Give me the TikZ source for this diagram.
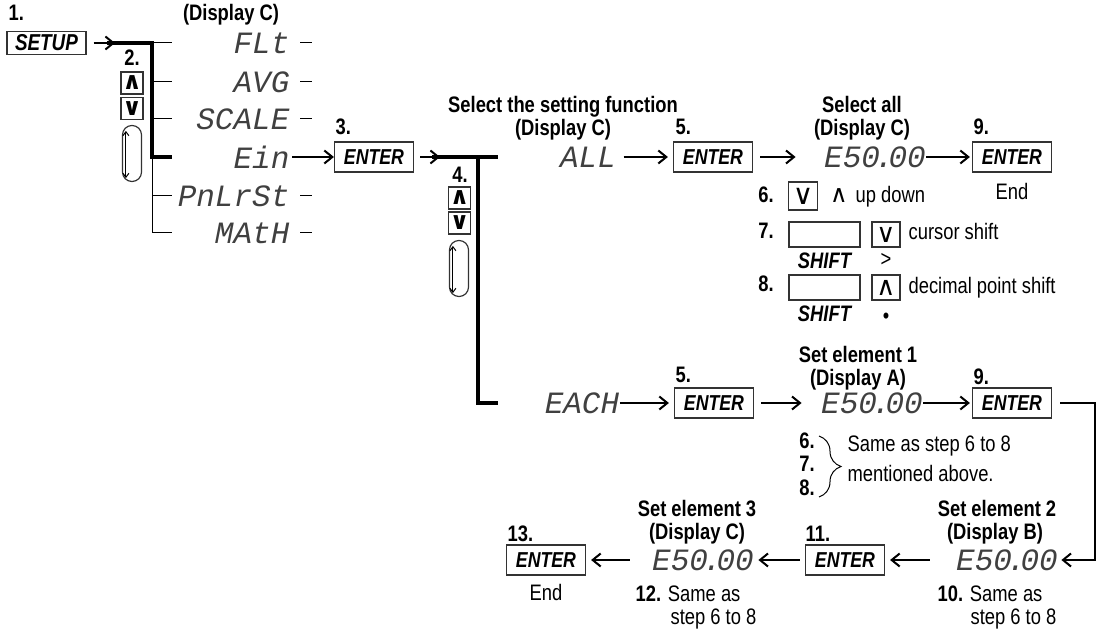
\documentclass[tikz,border=0pt]{standalone}
\usepackage{fontspec}
\setmainfont{Liberation Sans}[FakeStretch=0.82]
\newfontfamily\segfont{Liberation Mono}
\newfontfamily\keysym{DejaVu Sans}
\usetikzlibrary{arrows.meta, positioning, decorations.pathreplacing}
\newcommand\segdot{\kern-2.5pt.\kern-2.5pt}
\tikzset{
  every picture/.style={line width=0.6pt},
  head/.style={font=\bfseries\fontsize{11.2}{12}\selectfont, inner sep=0pt},
  num/.style={font=\bfseries\fontsize{11.2}{12}\selectfont, inner sep=0pt},
  note/.style={font=\fontsize{11.2}{12}\selectfont, inner sep=0pt},
  seg/.style={font=\segfont\itshape\fontsize{15.5}{16}\selectfont, text=black!75, inner sep=0pt},
  key/.style={draw=black!80, line width=0.6pt, font=\bfseries\itshape\fontsize{10.8}{12}\selectfont,
              minimum width=39.5pt, minimum height=15pt, inner sep=0pt},
  shiftkey/.style={draw=black!80, line width=0.6pt, minimum width=35.5pt, minimum height=12.5pt, inner sep=0pt},
  updn/.style={draw=black!80, line width=0.6pt, minimum size=11pt, inner sep=0pt,
               font=\keysym\bfseries\fontsize{12}{12}\selectfont},
  knob/.style={draw=black!80, line width=0.6pt, rounded corners=4.7pt, minimum width=9.5pt,
               minimum height=28pt, inner sep=0pt},
  arr/.style={-{Straight Barb[length=4pt,width=6.5pt]}, line width=1pt},
  bus/.style={line width=1.6pt},
  twig/.style={line width=0.5pt},
  knobarrow/.style={twig, {Straight Barb[length=2pt,width=3pt]}-{Straight Barb[length=2pt,width=3pt]}},
}

\begin{document}
\begin{tikzpicture}[x=0.5pt, y=-0.5pt]
  \useasboundingbox (0,0) rectangle (1099,630);

  % step 1: menu of functions
  \node[num, anchor=base west] (n1) at (8,21) {1.};
  \node[key, minimum height=11.5pt, font=\bfseries\itshape\fontsize{11.5}{12}\selectfont] (setup) at (46.5,43) {SETUP};
  \node[head, anchor=base] (dispc1) at (231,21) {(Display C)};
  \node[seg, anchor=east] (flt) at (290,43) {FLt};
  \node[seg, anchor=east] (avg) at (290,82) {AVG};
  \node[seg, anchor=east] (scale) at (290,119) {SCALE};
  \node[seg, anchor=east] (ein) at (290,157) {Ein};
  \node[seg, anchor=east] (pnl) at (290,196) {PnLrSt};
  \node[seg, anchor=east] (math) at (290,233) {MAtH};
  \draw[twig] ([xshift=5pt]flt.east) -- ++(12,0);
  \draw[twig] ([xshift=5pt]avg.east) -- ++(12,0);
  \draw[twig] ([xshift=5pt]scale.east) -- ++(12,0);
  \draw[twig] ([xshift=5pt]pnl.east) -- ++(12,0);
  \draw[twig] ([xshift=5pt]math.east) -- ++(12,0);

  \coordinate (tip1) at (115,43);
  \coordinate (j0) at (152,43);
  \coordinate (j1) at (152,82);
  \coordinate (j2) at (152,119);
  \coordinate (j3) at (152,157);
  \coordinate (j4) at (152,196);
  \coordinate (j5) at (152,233);
  \draw[arr, shorten <=3.5pt] (setup) -- (tip1);
  \draw[bus] ([xshift=-4pt]tip1) -- (j0) -- (j3) -- ++(20,0);
  \draw[twig] (j0) -- ++(20,0);
  \draw[twig] (j1) -- ++(20,0);
  \draw[twig] (j2) -- ++(20,0);
  \draw[twig] (j3) -- (j5) -- ++(20,0);
  \draw[twig] (j4) -- ++(20,0);

  % step 2: arrow keys
  \node[num, anchor=base] (n2) at (132,66) {2.};
  \node[updn] (up1) at (132,83) {∧};
  \node[updn] (dn1) at (132,108.5) {∨};
  \node[knob] (knob1) at (132,153.5) {};
  \draw[knobarrow] ([shift={(2pt,-3pt)}]knob1.north west) -- ([shift={(2pt,2pt)}]knob1.south west);

  % step 3
  \node[num, anchor=base west] (n3) at (335,135) {3.};
  \node[key] (enter3) at (374,157) {ENTER};
  \draw[arr, shorten <=1pt] (ein) -- (enter3);
  \coordinate (tip2) at (440,157);
  \coordinate (k0) at (478,157);
  \coordinate (k1) at (498,157);
  \coordinate (k2) at (498,403);
  \draw[arr, shorten <=3pt] (enter3) -- (tip2);
  \draw[bus] ([xshift=-4pt]tip2) -- (k1);
  \draw[bus] (k0) |- (k2);

  % step 4
  \node[num, anchor=base] (n4) at (460,183) {4.};
  \node[updn] (up2) at (459.5,198) {∧};
  \node[updn] (dn2) at (459.5,223) {∨};
  \node[knob] (knob2) at (459,268.5) {};
  \draw[knobarrow] ([shift={(2pt,-3pt)}]knob2.north west) -- ([shift={(2pt,2pt)}]knob2.south west);

  % select all
  \node[head, anchor=base] (selfn) at (563,113) {Select the setting function};
  \node[head, anchor=base] (dispc2) at (563,136) {(Display C)};
  \node[seg] (all) at (588,157) {ALL};
  \node[num, anchor=base west] (n5) at (675,135) {5.};
  \node[key] (enter5) at (713,157) {ENTER};
  \draw[arr, shorten <=3.5pt, shorten >=2.5pt] (all) -- (enter5);
  \node[head, anchor=base] (selall) at (862,113) {Select all};
  \node[head, anchor=base] (dispc3) at (862,136) {(Display C)};
  \node[seg] (e50a) at (875,157) {E50\segdot00};
  \draw[arr, shorten <=3.5pt, shorten >=14pt] (enter5) -- (e50a);
  \node[num, anchor=base west] (n9) at (973,135) {9.};
  \node[key] (enter9) at (1012,157) {ENTER};
  \draw[arr, shorten >=1pt] (e50a) -- (enter9);
  \node[note, below=5pt of enter9] (end1) {End};

  % steps 6 to 8
  \node[num, anchor=base] (n6) at (766,203) {6.};
  \node[updn, minimum width=14.5pt, minimum height=14pt, font=\keysym\fontsize{14}{14}\selectfont] (dn6) at (803,196) {∨};
  \node[note, font=\keysym\fontsize{12}{12}\selectfont] (upsym) at (839,196) {∧};
  \node[note, anchor=base west] (updown) at (855,203) {up down};
  \node[num, anchor=base] (n7) at (766,239) {7.};
  \node[shiftkey] (shift7) at (824.5,234.5) {};
  \node[note, font=\bfseries\itshape\fontsize{11.2}{12}\selectfont, below=2.5pt of shift7] (sh7) {SHIFT};
  \node[updn, minimum width=14pt, minimum height=12.5pt, font=\keysym\fontsize{13}{13}\selectfont] (dn7) at (886,234.5) {∨};
  \node[note, below=2.5pt of dn7] (gt) {>};
  \node[note, anchor=base west] (cursor) at (908,240) {cursor shift};
  \node[num, anchor=base] (n8) at (766,292) {8.};
  \node[shiftkey] (shift8) at (824.5,287.5) {};
  \node[note, font=\bfseries\itshape\fontsize{11.2}{12}\selectfont, below=2.5pt of shift8] (sh8) {SHIFT};
  \node[updn, minimum width=14pt, minimum height=12.5pt, font=\keysym\fontsize{13}{13}\selectfont] (up8) at (886,287.5) {∧};
  \node[note, below=6pt of up8] (dot) {\textbullet};
  \node[note, anchor=base west] (decimal) at (908,294) {decimal point shift};

  % each element
  \node[seg] (each) at (582,403) {EACH};
  \node[num, anchor=base west] (n5b) at (675,383) {5.};
  \node[key] (enter5b) at (714,403) {ENTER};
  \draw[arr, shorten >=2.5pt] (each) -- (enter5b);
  \node[head, anchor=base] (set1) at (858,363) {Set element 1};
  \node[head, anchor=base] (dispa) at (858,386) {(Display A)};
  \node[seg] (e50b) at (872,403) {E50\segdot00};
  \draw[arr, shorten <=3.5pt, shorten >=9.5pt] (enter5b) -- (e50b);
  \node[num, anchor=base west] (n9b) at (973,385) {9.};
  \node[key] (enter9b) at (1012,403) {ENTER};
  \draw[arr, shorten >=1pt] (e50b) -- (enter9b);

  \node[num, anchor=base] (n6b) at (807,449) {6.};
  \node[num, anchor=base] (n7b) at (807,472) {7.};
  \node[num, anchor=base] (n8b) at (807,496) {8.};
  \draw[twig, decorate, decoration={brace, amplitude=11pt}] (819,436) -- (819,497);
  \node[note, anchor=base west] (same1) at (847,452) {Same as step 6 to 8};
  \node[note, anchor=base west] (ment) at (847,482) {mentioned above.};

  \coordinate (turn) at (1095,403);
  \node[head, anchor=base] (set2) at (997,517) {Set element 2};
  \node[head, anchor=base] (dispb) at (995,540) {(Display B)};
  \node[seg] (e50c) at (1007,560) {E50\segdot00};
  \draw[arr, shorten <=4pt, shorten >=1.5pt] (enter9b) -- (turn) |- (e50c);
  \node[note, anchor=base west] (ten) at (937,602) {\textbf{10.} Same as};
  \node[note, anchor=base west] (ten2) at (970,625) {step 6 to 8};

  \node[num, anchor=base west] (n11) at (805,542) {11.};
  \node[key] (enter11) at (845,560) {ENTER};
  \draw[arr, shorten <=13pt, shorten >=2.5pt] (e50c) -- (enter11);
  \node[head, anchor=base] (set3) at (697,517) {Set element 3};
  \node[head, anchor=base] (dispc4) at (697,540) {(Display C)};
  \node[seg] (e50d) at (703,560) {E50\segdot00};
  \draw[arr, shorten <=2.5pt, shorten >=2pt] (enter11) -- (e50d);
  \node[note, anchor=base west] (twelve) at (635,602) {\textbf{12.} Same as};
  \node[note, anchor=base west] (twelve2) at (670,625) {step 6 to 8};

  \node[num, anchor=base west] (n13) at (507,542) {13.};
  \node[key] (enter13) at (546,560) {ENTER};
  \draw[arr, shorten <=11pt, shorten >=2.5pt] (e50d) -- (enter13);
  \node[note, below=4pt of enter13] (end2) {End};
\end{tikzpicture}
\end{document}
